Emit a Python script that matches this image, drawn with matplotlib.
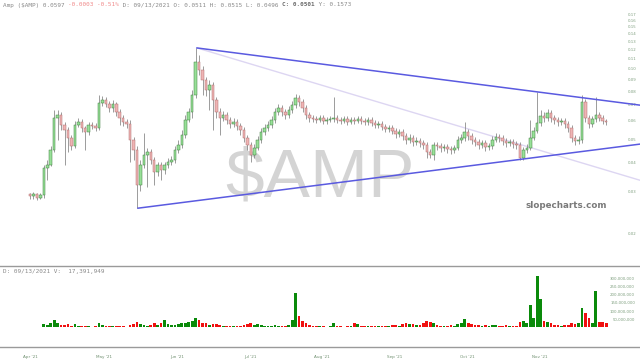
import numpy as np
import matplotlib
matplotlib.use('Agg')
import matplotlib.pyplot as plt
from matplotlib.ticker import NullLocator, FixedLocator

# Daily candles for $AMP (price in $)
first_open = 0.0292
closes = [
    0.0286, 0.0292, 0.0283, 0.0289, 0.0376, 0.0388, 0.0449, 0.0615, 0.0633, 0.0574,
    0.0547, 0.0506, 0.0467, 0.0574, 0.0591, 0.0558, 0.0536, 0.0574, 0.0569, 0.0558,
    0.0712, 0.0733, 0.0705, 0.0678, 0.0705, 0.0652, 0.0615, 0.0591, 0.0580, 0.0496,
    0.0449, 0.0319, 0.0388, 0.0428, 0.0441, 0.0407, 0.0362, 0.0388, 0.0369, 0.0388,
    0.0399, 0.0407, 0.0449, 0.0472, 0.0520, 0.0603, 0.0652, 0.0770, 0.1064, 0.0983,
    0.0892, 0.0808, 0.0849, 0.0733, 0.0652, 0.0615, 0.0633, 0.0603, 0.0580, 0.0591,
    0.0569, 0.0547, 0.0506, 0.0472, 0.0428, 0.0458, 0.0496, 0.0536, 0.0558, 0.0574,
    0.0603, 0.0652, 0.0678, 0.0652, 0.0633, 0.0665, 0.0698, 0.0748, 0.0719, 0.0678,
    0.0633, 0.0615, 0.0609, 0.0603, 0.0615, 0.0597, 0.0603, 0.0609, 0.0615, 0.0603,
    0.0597, 0.0609, 0.0591, 0.0603, 0.0597, 0.0609, 0.0597, 0.0591, 0.0603, 0.0586,
    0.0574, 0.0580, 0.0563, 0.0552, 0.0558, 0.0541, 0.0525, 0.0536, 0.0515, 0.0496,
    0.0506, 0.0486, 0.0491, 0.0481, 0.0472, 0.0441, 0.0428, 0.0472, 0.0467, 0.0458,
    0.0463, 0.0454, 0.0449, 0.0458, 0.0496, 0.0506, 0.0536, 0.0515, 0.0496, 0.0486,
    0.0472, 0.0481, 0.0463, 0.0467, 0.0496, 0.0510, 0.0506, 0.0491, 0.0481, 0.0486,
    0.0477, 0.0472, 0.0415, 0.0449, 0.0458, 0.0506, 0.0541, 0.0586, 0.0627, 0.0615,
    0.0646, 0.0615, 0.0603, 0.0591, 0.0597, 0.0580, 0.0558, 0.0506, 0.0491, 0.0496,
    0.0719, 0.0615, 0.0580, 0.0609, 0.0633, 0.0615, 0.0597, 0.0591,
]
highs = [
    0.0297, 0.0300, 0.0297, 0.0295, 0.0388, 0.0407, 0.0467, 0.0665, 0.0665, 0.0652,
    0.0591, 0.0563, 0.0520, 0.0597, 0.0615, 0.0609, 0.0569, 0.0591, 0.0591, 0.0586,
    0.0770, 0.0762, 0.0755, 0.0726, 0.0733, 0.0719, 0.0671, 0.0633, 0.0609, 0.0603,
    0.0510, 0.0467, 0.0407, 0.0531, 0.0458, 0.0454, 0.0419, 0.0399, 0.0399, 0.0399,
    0.0415, 0.0424, 0.0467, 0.0496, 0.0547, 0.0633, 0.0678, 0.0808, 0.1221, 0.1140,
    0.1023, 0.0918, 0.0892, 0.0875, 0.0755, 0.0678, 0.0659, 0.0652, 0.0621, 0.0615,
    0.0609, 0.0586, 0.0563, 0.0520, 0.0486, 0.0477, 0.0515, 0.0558, 0.0580, 0.0597,
    0.0627, 0.0678, 0.0705, 0.0698, 0.0671, 0.0691, 0.0726, 0.0777, 0.0770, 0.0740,
    0.0698, 0.0652, 0.0633, 0.0627, 0.0633, 0.0633, 0.0621, 0.0627, 0.0755, 0.0633,
    0.0621, 0.0627, 0.0627, 0.0621, 0.0621, 0.0627, 0.0627, 0.0615, 0.0621, 0.0621,
    0.0603, 0.0597, 0.0597, 0.0580, 0.0574, 0.0574, 0.0558, 0.0552, 0.0552, 0.0531,
    0.0525, 0.0520, 0.0510, 0.0506, 0.0496, 0.0486, 0.0454, 0.0486, 0.0486, 0.0481,
    0.0477, 0.0477, 0.0467, 0.0472, 0.0515, 0.0525, 0.0591, 0.0552, 0.0531, 0.0510,
    0.0501, 0.0496, 0.0496, 0.0481, 0.0515, 0.0531, 0.0525, 0.0520, 0.0506, 0.0501,
    0.0501, 0.0491, 0.0486, 0.0463, 0.0477, 0.0603, 0.0563, 0.0792, 0.0665, 0.0652,
    0.0671, 0.0665, 0.0633, 0.0621, 0.0615, 0.0615, 0.0597, 0.0574, 0.0520, 0.0515,
    0.0770, 0.0740, 0.0633, 0.0627, 0.0755, 0.0652, 0.0633, 0.0609,
]
lows = [
    0.0278, 0.0280, 0.0275, 0.0278, 0.0283, 0.0335, 0.0384, 0.0441, 0.0496, 0.0547,
    0.0388, 0.0441, 0.0449, 0.0458, 0.0563, 0.0536, 0.0449, 0.0520, 0.0552, 0.0541,
    0.0547, 0.0691, 0.0685, 0.0652, 0.0652, 0.0627, 0.0574, 0.0569, 0.0558, 0.0399,
    0.0407, 0.0255, 0.0303, 0.0376, 0.0313, 0.0392, 0.0319, 0.0348, 0.0335, 0.0355,
    0.0376, 0.0388, 0.0396, 0.0436, 0.0458, 0.0506, 0.0591, 0.0615, 0.0748, 0.0936,
    0.0770, 0.0762, 0.0665, 0.0547, 0.0615, 0.0520, 0.0597, 0.0580, 0.0558, 0.0563,
    0.0547, 0.0520, 0.0486, 0.0449, 0.0399, 0.0415, 0.0449, 0.0481, 0.0520, 0.0541,
    0.0558, 0.0586, 0.0633, 0.0627, 0.0609, 0.0615, 0.0646, 0.0678, 0.0691, 0.0652,
    0.0609, 0.0591, 0.0591, 0.0586, 0.0591, 0.0580, 0.0580, 0.0591, 0.0591, 0.0586,
    0.0580, 0.0586, 0.0574, 0.0580, 0.0580, 0.0586, 0.0580, 0.0574, 0.0574, 0.0569,
    0.0558, 0.0558, 0.0547, 0.0536, 0.0536, 0.0525, 0.0506, 0.0510, 0.0496, 0.0477,
    0.0481, 0.0467, 0.0472, 0.0463, 0.0454, 0.0415, 0.0415, 0.0407, 0.0449, 0.0441,
    0.0445, 0.0436, 0.0432, 0.0436, 0.0449, 0.0481, 0.0491, 0.0496, 0.0477, 0.0467,
    0.0454, 0.0458, 0.0445, 0.0449, 0.0454, 0.0486, 0.0486, 0.0472, 0.0463, 0.0467,
    0.0458, 0.0454, 0.0407, 0.0407, 0.0436, 0.0449, 0.0496, 0.0531, 0.0569, 0.0591,
    0.0597, 0.0591, 0.0580, 0.0569, 0.0574, 0.0558, 0.0536, 0.0486, 0.0472, 0.0477,
    0.0481, 0.0591, 0.0558, 0.0563, 0.0591, 0.0597, 0.0580, 0.0574,
]
# volume in millions of shares
volumes = [
    6, 4, 5, 3, 22, 15, 28, 45, 25, 18,
    14, 20, 12, 22, 10, 9, 12, 8, 6, 7,
    30, 18, 10, 8, 7, 9, 12, 8, 6, 18,
    20, 35, 22, 18, 12, 14, 25, 15, 30, 45,
    20, 15, 18, 22, 25, 30, 35, 40, 60, 45,
    30, 25, 18, 22, 20, 15, 10, 8, 9, 7,
    10, 12, 18, 22, 28, 15, 20, 14, 10, 9,
    12, 15, 10, 8, 9, 14, 45, 208, 70, 40,
    30, 15, 10, 8, 9, 7, 6, 8, 25, 10,
    8, 6, 7, 12, 28, 20, 10, 8, 7, 9,
    10, 8, 12, 9, 10, 14, 18, 12, 22, 28,
    20, 24, 16, 18, 25, 40, 35, 30, 15, 12,
    10, 12, 14, 10, 22, 25, 50, 30, 20, 18,
    15, 12, 14, 10, 18, 15, 12, 10, 14, 12,
    10, 12, 35, 40, 25, 135, 60, 316, 175, 40,
    35, 25, 18, 15, 12, 14, 18, 30, 22, 30,
    117, 87, 57, 30, 220, 35, 33, 25,
]

month_pos = [0, 21.4, 42.6, 63.8, 84.6, 105.8, 126.7, 147.8]
month_labels = ["Apr '21", "May '21", "Jun '21", "Jul '21", "Aug '21", "Sep '21", "Oct '21", "Nov '21"]
price_ticks = [0.02, 0.03, 0.04, 0.05, 0.06, 0.07, 0.08, 0.09, 0.10,
               0.11, 0.12, 0.13, 0.14, 0.15, 0.16, 0.17]
vol_ticks = [50, 100, 150, 200, 250, 300]

# trendlines drawn on the chart (candle index, price)
upper_x, upper_y = [48.4, 176.8], [0.1221, 0.0698]
lower_x, lower_y = [31.3, 176.8], [0.0255, 0.0477]
faint_x, faint_y = [48.4, 176.8], [0.1221, 0.0335]

o = np.array([first_open] + closes[:-1])
c = np.array(closes)
h = np.array(highs)
l = np.array(lows)
v = np.array(volumes) * 1e6
x = np.arange(len(c))
up = c >= o

fig = plt.figure(figsize=(6.4, 3.63), dpi=100)
H = 363.0
ax = fig.add_axes([0, (H - 266) / H, 1, 266 / H])
vax = fig.add_axes([0, (H - 347) / H, 1, 81 / H])

# price panel
ax.set_yscale('log')
ax.vlines(x, l, h, color='#8c8c8c', lw=0.6, zorder=2)
body_lo = np.minimum(o, c)
body_h = np.maximum(np.abs(c - o), 0.0002)
ax.bar(x[up], body_h[up], bottom=body_lo[up], width=0.72,
       color='#98e098', edgecolor='#3f7f3f', linewidth=0.35, zorder=3)
ax.bar(x[~up], body_h[~up], bottom=body_lo[~up], width=0.72,
       color='#efb4b4', edgecolor='#b07070', linewidth=0.35, zorder=3)

ax.plot(faint_x, faint_y, color='#ddd6f2', lw=1.0, zorder=1)
ax.plot(upper_x, upper_y, color='#5a5ae0', lw=1.1, zorder=4)
ax.plot(lower_x, lower_y, color='#5a5ae0', lw=1.1, zorder=4)

ax.set_xlim(-8.7, 176.8)
ax.set_ylim(0.01449, 0.1951)
for s in ax.spines.values():
    s.set_visible(False)
ax.set_xticks([])
ax.yaxis.tick_right()
ax.yaxis.set_major_locator(FixedLocator(price_ticks))
ax.yaxis.set_minor_locator(NullLocator())
ax.set_yticklabels([f"{t:.2f}" for t in price_ticks])
ax.tick_params(axis='y', length=0, pad=-8.6, labelsize=2.8, labelcolor='#7f9f7f')

ax.text(0.5, 0.33, '$AMP', transform=ax.transAxes, ha='center', va='center',
        fontsize=50, color='#d4d4d4', family='Liberation Sans', zorder=0)
ax.text(607 / 640, (266 - 205) / 266, 'slopecharts.com', transform=ax.transAxes,
        ha='right', va='center', fontsize=6.3, fontweight='bold', color='#7a7a7a')

# header line
mono = 'DejaVu Sans Mono'
t1 = ax.text(3 / 640, (266 - 5) / 266, 'Amp ($AMP) 0.0597 ', transform=ax.transAxes,
             ha='left', va='center', fontsize=4.3, family=mono, color='#8a8a8a')
t2 = ax.annotate('-0.0003 -0.51%', xy=(1, 0), xycoords=t1, va='bottom',
                 fontsize=4.3, family=mono, color='#f08a8a')
t3 = ax.annotate(' D: 09/13/2021 O: 0.0511 H: 0.0515 L: 0.0496 ', xy=(1, 0), xycoords=t2,
                 va='bottom', fontsize=4.3, family=mono, color='#8a8a8a')
t4 = ax.annotate('C: 0.0501', xy=(1, 0), xycoords=t3, va='bottom',
                 fontsize=4.3, family=mono, color='#6a6a6a', fontweight='bold')
ax.annotate(' Y: 0.1573', xy=(1, 0), xycoords=t4, va='bottom',
            fontsize=4.3, family=mono, color='#8a8a8a')

# volume panel
vcol = np.where(up, '#0a8a0a', '#f01010')
vax.bar(x, v, width=0.78, color=vcol, zorder=2)
vax.set_xlim(-8.7, 176.8)
vax.set_ylim(-119e6, 375e6)
for side in ['left', 'right']:
    vax.spines[side].set_visible(False)
for side in ['top', 'bottom']:
    vax.spines[side].set_color('#9a9a9a')
    vax.spines[side].set_linewidth(1.0)
vax.yaxis.tick_right()
vax.set_yticks([t * 1e6 for t in vol_ticks])
vax.set_yticklabels([f"{t * 1000000:,}" for t in vol_ticks], ha='right')
vax.tick_params(axis='y', length=0, pad=-3.6, labelsize=2.8, labelcolor='#7f9f7f')
vax.set_xticks(month_pos)
vax.set_xticklabels(month_labels)
vax.tick_params(axis='x', length=0, pad=6.0, labelsize=3.0, labelcolor='#6f8f6f')
vax.text(3 / 640, (81 - 6) / 81, 'D: 09/13/2021 V:  17,391,949', transform=vax.transAxes,
         ha='left', va='center', fontsize=4.3, family=mono, color='#8a8a8a')

fig.savefig('out.png', dpi=100)
